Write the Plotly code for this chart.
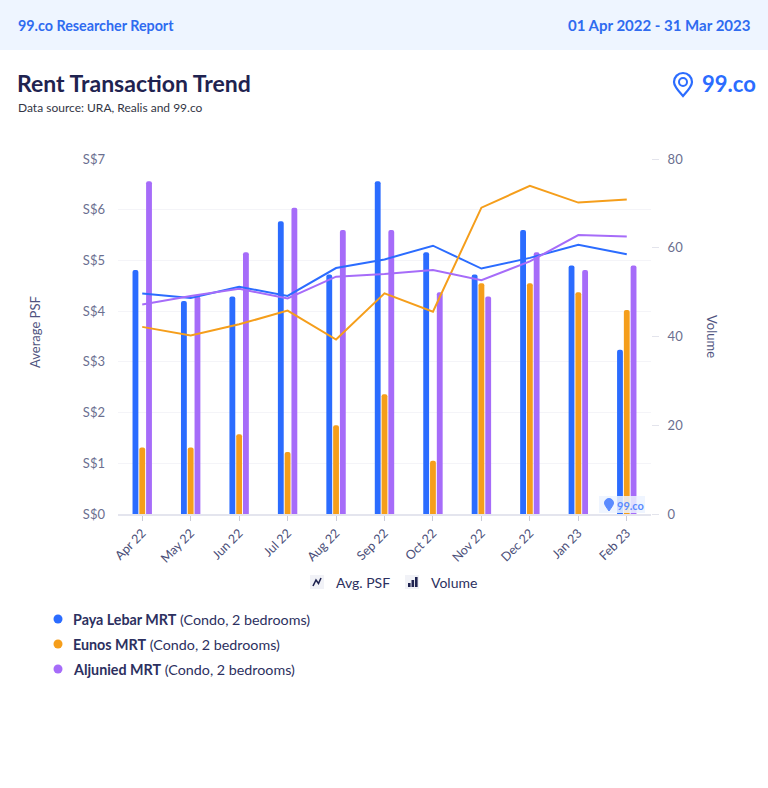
import plotly.graph_objects as go

# ---------------- data ----------------
months = ["Apr 22", "May 22", "Jun 22", "Jul 22", "Aug 22", "Sep 22",
          "Oct 22", "Nov 22", "Dec 22", "Jan 23", "Feb 23"]
series_names = ["Paya Lebar MRT", "Eunos MRT", "Aljunied MRT"]
series_detail = "(Condo, 2 bedrooms)"
vol_paya = [55, 48, 49, 66, 54, 75, 59, 54, 64, 56, 37]
vol_eunos = [15, 15, 18, 14, 20, 27, 12, 52, 52, 50, 46]
vol_aljunied = [75, 49, 59, 69, 64, 64, 50, 49, 59, 55, 56]
psf_paya = [4.35, 4.26, 4.48, 4.30, 4.85, 5.02, 5.29, 4.84, 5.05, 5.31, 5.12]
psf_eunos = [3.69, 3.52, 3.74, 4.01, 3.44, 4.35, 3.99, 6.04, 6.47, 6.14, 6.20]
psf_aljunied = [4.13, 4.30, 4.44, 4.25, 4.68, 4.73, 4.81, 4.61, 4.98, 5.50, 5.47]
psf_ticks = [0, 1, 2, 3, 4, 5, 6, 7]
psf_ticklabels = ["S$0", "S$1", "S$2", "S$3", "S$4", "S$5", "S$6", "S$7"]
vol_ticks = [0, 20, 40, 60, 80]

colors = ["#2B6CFF", "#F59E1B", "#A66CF9"]
NAVY = "#1F2350"
TICK = "#6B6F90"
FONT = "Lato"

W, H = 768, 788
L, R, T, B = 118, 117, 159, 274
PW, PH = W - L - R, H - T - B


def px(x):
    return (x - L) / PW


def py(y):
    return (H - B - y) / PH


fig = go.Figure()

vols = [vol_paya, vol_eunos, vol_aljunied]
psfs = [psf_paya, psf_eunos, psf_aljunied]

for name, v, c in zip(series_names, vols, colors):
    fig.add_trace(go.Bar(x=months, y=v, name=name, marker=dict(color=c, line=dict(width=0)),
                         yaxis="y", hoverinfo="x+y"))
for name, p, c in zip(series_names, psfs, colors):
    fig.add_trace(go.Scatter(x=months, y=p, name=name, mode="lines",
                             line=dict(color=c, width=2), yaxis="y2"))

shapes = []
annotations = []

# header band
shapes.append(dict(type="rect", xref="paper", yref="paper", x0=px(0), x1=px(W), y0=py(50), y1=py(0),
                   fillcolor="#EEF5FF", line=dict(width=0), layer="below"))
annotations.append(dict(text="<b>99.co Researcher Report</b>", x=px(16), y=py(25), xref="paper", yref="paper",
                        xanchor="left", yanchor="middle", showarrow=False,
                        font=dict(family=FONT, size=14.3, color="#2F6BF0")))
annotations.append(dict(text="<b>01 Apr 2022 - 31 Mar 2023</b>", x=px(752), y=py(25), xref="paper", yref="paper",
                        xanchor="right", yanchor="middle", showarrow=False,
                        font=dict(family=FONT, size=15, color="#2F6BF0")))
# title
annotations.append(dict(text="<b>Rent Transaction Trend</b>", x=px(15), y=py(83), xref="paper", yref="paper",
                        xanchor="left", yanchor="middle", showarrow=False,
                        font=dict(family=FONT, size=23, color=NAVY)))
annotations.append(dict(text="Data source: URA, Realis and 99.co", x=px(16), y=py(107), xref="paper", yref="paper",
                        xanchor="left", yanchor="middle", showarrow=False,
                        font=dict(family=FONT, size=12, color="#333645")))


def pin_path(cx, cy, r, tip):
    k = 0.5523 * r
    s = f"M{px(cx)},{py(tip)} "
    s += f"C{px(cx - r*0.55)},{py(cy + r*0.95)} {px(cx - r)},{py(cy + k*0.9)} {px(cx - r)},{py(cy)} "
    s += f"C{px(cx - r)},{py(cy - k)} {px(cx - k)},{py(cy - r)} {px(cx)},{py(cy - r)} "
    s += f"C{px(cx + k)},{py(cy - r)} {px(cx + r)},{py(cy - k)} {px(cx + r)},{py(cy)} "
    s += f"C{px(cx + r)},{py(cy + k*0.9)} {px(cx + r*0.55)},{py(cy + r*0.95)} {px(cx)},{py(tip)} Z"
    return s


# logo
shapes.append(dict(type="path", xref="paper", yref="paper", path=pin_path(683, 82, 9, 96),
                   line=dict(color="#2B6CFF", width=2.2), fillcolor="rgba(0,0,0,0)"))
shapes.append(dict(type="circle", xref="paper", yref="paper", x0=px(679), x1=px(687), y0=py(86), y1=py(78),
                   line=dict(color="#2B6CFF", width=2)))
annotations.append(dict(text="<b>99.co</b>", x=px(700), y=py(83), xref="paper", yref="paper",
                        xanchor="left", yanchor="middle", showarrow=False,
                        font=dict(family=FONT, size=22, color="#2B6CFF")))

# axis titles
annotations.append(dict(text="Average PSF", x=px(35), y=py(332), xref="paper", yref="paper",
                        textangle=-90, showarrow=False, xanchor="center", yanchor="middle",
                        font=dict(family=FONT, size=13, color="#4F5480")))
annotations.append(dict(text="Volume", x=px(712), y=py(336), xref="paper", yref="paper",
                        textangle=90, showarrow=False, xanchor="center", yanchor="middle",
                        font=dict(family=FONT, size=13, color="#4F5480")))

# watermark in plot
shapes.append(dict(type="rect", xref="paper", yref="paper", x0=px(599), x1=px(645), y0=py(513), y1=py(496),
                   fillcolor="rgba(236,243,255,0.85)", line=dict(width=0)))
shapes.append(dict(type="path", xref="paper", yref="paper", path=pin_path(609, 503, 4.5, 511),
                   line=dict(color="#5A8BFF", width=1), fillcolor="#5A8BFF"))
annotations.append(dict(text="<b>99.co</b>", x=px(615), y=py(505), xref="paper", yref="paper",
                        xanchor="left", yanchor="middle", showarrow=False,
                        font=dict(family=FONT, size=11, color="#5A8BFF")))

# chart-type legend
shapes.append(dict(type="rect", xref="paper", yref="paper", x0=px(310), x1=px(324), y0=py(589), y1=py(575),
                   fillcolor="#F1F2F7", line=dict(width=0)))
shapes.append(dict(type="path", xref="paper", yref="paper",
                   path=f"M{px(313)},{py(586)} L{px(316)},{py(580)} L{px(318.5)},{py(583.5)} L{px(321)},{py(578)}",
                   line=dict(color=NAVY, width=1.6)))
annotations.append(dict(text="Avg. PSF", x=px(334), y=py(582), xref="paper", yref="paper",
                        xanchor="left", yanchor="middle", showarrow=False,
                        font=dict(family=FONT, size=14, color="#2C3060")))
shapes.append(dict(type="rect", xref="paper", yref="paper", x0=px(405), x1=px(419), y0=py(589), y1=py(575),
                   fillcolor="#F1F2F7", line=dict(width=0)))
for bx0, btop in [(408, 583), (411.5, 580), (415, 577)]:
    shapes.append(dict(type="rect", xref="paper", yref="paper", x0=px(bx0), x1=px(bx0 + 2.6),
                       y0=py(587), y1=py(btop), fillcolor=NAVY, line=dict(width=0)))
annotations.append(dict(text="Volume", x=px(429), y=py(582), xref="paper", yref="paper",
                        xanchor="left", yanchor="middle", showarrow=False,
                        font=dict(family=FONT, size=14, color="#2C3060")))

# series legend
for i, (name, c) in enumerate(zip(series_names, colors)):
    yy = 619 + 25 * i
    shapes.append(dict(type="circle", xref="paper", yref="paper", x0=px(53.5), x1=px(62.5),
                       y0=py(yy + 4.5), y1=py(yy - 4.5), fillcolor=c, line=dict(width=0)))
    annotations.append(dict(text=f"<b>{name}</b> {series_detail}", x=px(71), y=py(yy), xref="paper", yref="paper",
                            xanchor="left", yanchor="middle", showarrow=False,
                            font=dict(family=FONT, size=14.3, color="#2C3060")))

fig.update_layout(
    width=W, height=H,
    margin=dict(l=L, r=R, t=T, b=B, pad=0),
    paper_bgcolor="white", plot_bgcolor="white",
    showlegend=False,
    barmode="group", bargap=0.58, bargroupgap=0.14, barcornerradius=3,
    font=dict(family=FONT, color=TICK, size=12),
    xaxis=dict(type="category", categoryorder="array", categoryarray=months,
               showgrid=False, showline=True, linecolor="#E4E5EE", linewidth=2,
               ticks="outside", ticklen=5, tickcolor="#C9CBD8", tickwidth=1,
               tickangle=-45, tickfont=dict(family=FONT, size=12.5, color="#4A4E78"),
               zeroline=False),
    yaxis=dict(side="right", range=[0, 80], tickvals=vol_ticks, showgrid=False, zeroline=False,
               ticks="outside", ticklen=7, tickcolor="#E3E4EC", tickwidth=1,
               ticklabelstandoff=6,
               tickfont=dict(family=FONT, size=13, color=TICK), showline=False),
    yaxis2=dict(side="left", overlaying="y", range=[0, 7], tickvals=psf_ticks, ticktext=psf_ticklabels,
                showgrid=True, gridcolor="#F4F4F8", gridwidth=1, zeroline=False, showline=False,
                ticks="", ticklabelstandoff=12,
                tickfont=dict(family=FONT, size=13, color=TICK)),
    shapes=shapes,
    annotations=annotations,
)

fig.write_html("out.html", config={"displayModeBar": False},
               post_script="document.body.style.margin='0';document.body.style.padding='0';")
